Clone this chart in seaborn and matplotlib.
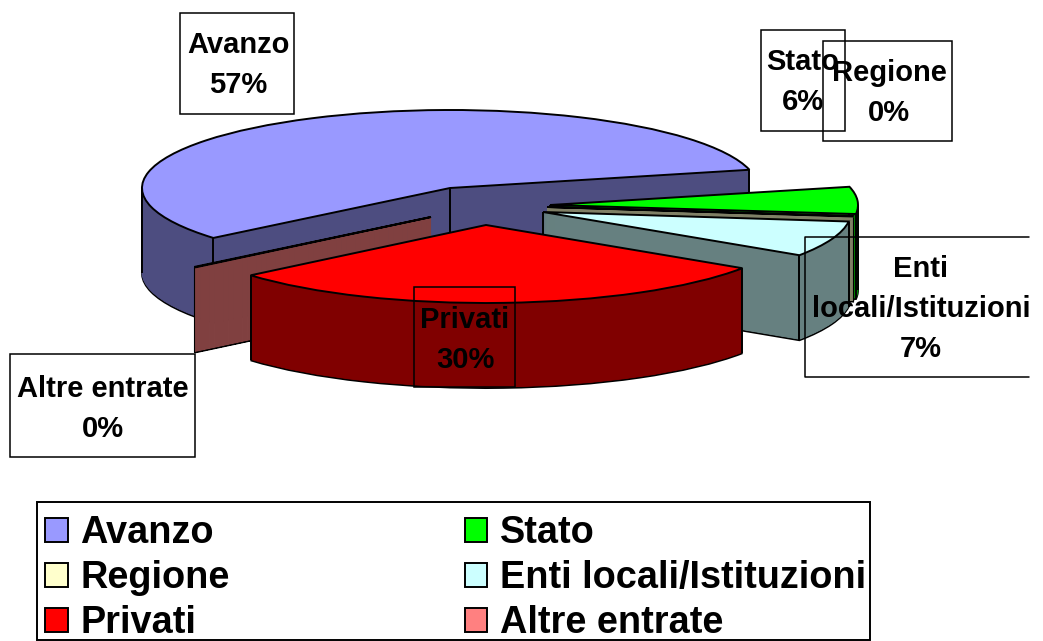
import math
import matplotlib
matplotlib.use("Agg")
import matplotlib.pyplot as plt
from matplotlib.patches import Patch, Rectangle
from matplotlib.lines import Line2D
import seaborn as sns

sns.set_theme(style="white")
plt.rcParams['font.family'] = ['Liberation Sans', 'DejaVu Sans']
plt.rcParams['font.weight'] = 'bold'

# slices, clockwise from the cut on the left of Avanzo
categories = ['Avanzo', 'Stato', 'Regione', 'Enti locali/Istituzioni', 'Privati', 'Altre entrate']
values = [57.3, 5.6, 0.1, 7.4, 29.5, 0.1]
top_colors = ['#9999FF', '#00FF00', '#FFFFCC', '#CCFFFF', '#FF0000', '#FF8080']
side_colors = ['#4D4D80', '#008000', '#808066', '#668080', '#800000', '#804040']

W, H = 1043, 641
DPI = 100
# pie geometry in pixels of the picture
RX, RY = 308, 78
CX, CY = 450, 188
DEPTH = 85
START = 219.8
# where each slice has been pulled to (pixels)
centers = [(450, 188), (550, 205), (547, 207), (543, 212), (486, 225), (431, 217)]
draw_order = [0, 1, 2, 3, 5, 4]

fig = plt.figure(figsize=(W / DPI, H / DPI), dpi=DPI, facecolor='white')
ax = fig.add_axes([0, 0, 1, 1])


def to_data(px, py):
    return (px - CX) / RX, (CY - py) / RY


def draw_slice(idx, z):
    cx, cy = to_data(*centers[idx])
    step = 1 / RY
    top = None
    for layer in range(DEPTH + 1):
        is_top = layer == DEPTH
        is_bottom = layer == 0
        color = top_colors if is_top else side_colors
        wedges, _ = ax.pie(values, colors=color, startangle=START, counterclock=False,
                           center=(cx, cy - (DEPTH - layer) * step), radius=1)
        for i, w in enumerate(wedges):
            if i != idx:
                w.remove()
        w = wedges[idx]
        w.set_zorder(z + layer * 0.001 + (0.2 if is_top else 0))
        if is_top or is_bottom:
            w.set_edgecolor('black')
            w.set_linewidth(1.4)
        else:
            w.set_edgecolor(side_colors[idx])
            w.set_linewidth(0.6)
        if is_top:
            top = w
    # vertical edges of the walls
    thin = values[idx] < 1
    angles = [top.theta1] if thin else [top.theta1, top.theta2]
    xs = [cx + math.cos(math.radians(a)) for a in angles]
    ys = [cy + math.sin(math.radians(a)) for a in angles]
    # the vertex edge is hidden when the slice faces the viewer
    faces_front = top.theta1 <= 270 <= top.theta2 or top.theta1 <= -90 <= top.theta2
    if not thin and not faces_front:
        xs.append(cx)
        ys.append(cy)
    for tangent in (180, 360, 0):
        if top.theta1 <= tangent <= top.theta2:
            xs.append(cx + math.cos(math.radians(tangent)))
            ys.append(cy)
    for x, y in zip(xs, ys):
        ax.plot([x, x], [y, y - DEPTH * step], color='black', lw=0.8 if thin else 1.4,
                zorder=z + 0.15, solid_capstyle='butt')


for order, idx in enumerate(draw_order):
    draw_slice(idx, 2 + order)

ax.set_aspect('auto')
ax.set_xlim(to_data(0, 0)[0], to_data(W, 0)[0])
ax.set_ylim(to_data(0, H)[1], to_data(0, 0)[1])
ax.set_axis_off()


def fx(px):
    return px / W


def fy(py):
    return 1 - py / H


def percent(i):
    return f"{values[i]:.0f}%"


# data labels: text centre, then box left, top, right, bottom
label_text = ['Avanzo', 'Stato', 'Regione', 'Enti\nlocali/Istituzioni', 'Privati', 'Altre entrate']
label_pos = [(238, 65), (803, 82), (889, 93), (921, 309), (465, 340), (103, 409)]
label_box = [(180, 13, 294, 114), (761, 30, 845, 131), (823, 41, 952, 141),
             None, (414, 287, 515, 387), (10, 354, 195, 457)]

for i in range(len(categories)):
    box = label_box[i]
    if box is not None:
        l, t, r, b = box
        fig.add_artist(Rectangle((fx(l), fy(b)), fx(r) - fx(l), fy(t) - fy(b), fill=False,
                                 edgecolor='black', lw=1.1, transform=fig.transFigure, zorder=20))
    x, y = label_pos[i]
    fig.text(fx(x), fy(y), f"{label_text[i]}\n{percent(i)}", ha='center', va='center',
             fontsize=21, fontweight='bold', color='black', linespacing=1.55, zorder=21)

# the Enti box runs off its right side
for xs, ys in [((1029, 805, 805, 1029), (237, 237, 377, 377))]:
    fig.add_artist(Line2D([fx(x) for x in xs], [fy(y) for y in ys], color='black', lw=1.1,
                          transform=fig.transFigure, zorder=20))

# legend frame, cut by the bottom of the picture
fig.add_artist(Rectangle((fx(37), fy(640)), fx(870) - fx(37), fy(502) - fy(640), fill=False,
                         edgecolor='black', lw=1.4, transform=fig.transFigure, zorder=20))

handles = [Patch(facecolor=c, edgecolor='black', linewidth=1.4) for c in top_colors]
legend_order = [0, 2, 4, 1, 3, 5]
leg = fig.legend([handles[i] for i in legend_order], [categories[i] for i in legend_order],
                 ncol=2, loc='upper left', bbox_to_anchor=(fx(45), fy(515)), borderaxespad=0,
                 prop={'size': 27.3, 'weight': 'bold'}, labelcolor='black', frameon=False,
                 handlelength=0.6, handleheight=0.6, handletextpad=0.33, labelspacing=0.24,
                 columnspacing=6.2, borderpad=0)

plt.savefig('out.png', dpi=DPI)
